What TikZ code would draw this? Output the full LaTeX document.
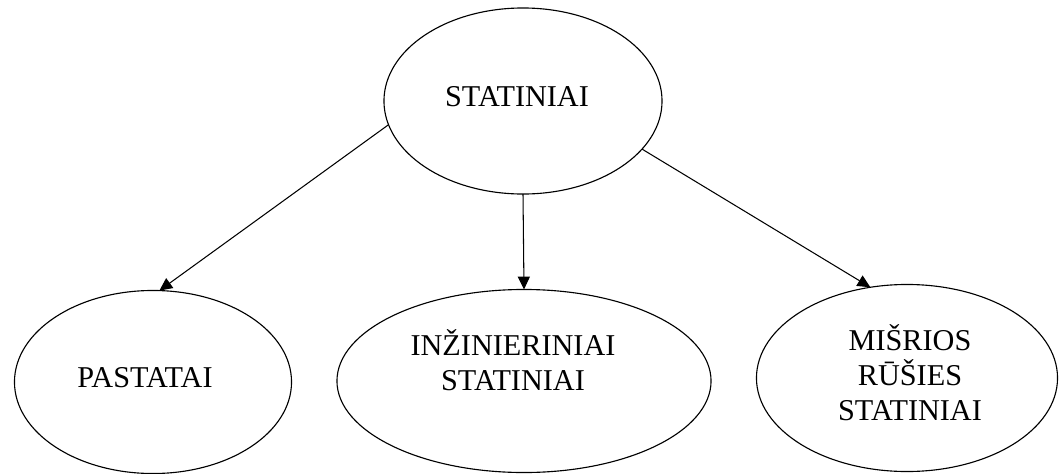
\documentclass[tikz,border=0pt]{standalone}
\usepackage{fontspec}
\setmainfont{Liberation Serif}
\usetikzlibrary{calc, positioning, arrows.meta, shapes.geometric}

\tikzset{
  oval/.style={ellipse, draw, line width=0.8pt, inner sep=0, outer sep=0},
  lbl/.style={font=\fontsize{21.5}{25}\selectfont, align=center, inner sep=0},
  link/.style={-{Triangle[length=0.32cm, width=0.3cm]}, line width=0.75pt},
}

\begin{document}
\begin{tikzpicture}[x=0.025cm, y=-0.025cm]

  \useasboundingbox (0, 0) rectangle (1061, 474);

  \coordinate (top-c)   at (523, 101);
  \coordinate (left-c)  at (153, 382);
  \coordinate (mid-c)   at (524, 381);
  \coordinate (right-c) at (907, 378);

  % ellipses
  \node[oval, minimum width=6.95cm,  minimum height=4.65cm]  (statiniai)     at (top-c)   {};
  \node[oval, minimum width=6.925cm, minimum height=4.575cm] (pastatai)      at (left-c)  {};
  \node[oval, minimum width=9.35cm,  minimum height=4.575cm] (inzinieriniai) at (mid-c)   {};
  \node[oval, minimum width=7.525cm, minimum height=4.675cm] (misrios)       at (right-c) {};

  % texts
  \node[lbl] (statiniai-txt)     at ($(top-c)   + (-6, -4)$)   {STATINIAI};
  \node[lbl] (pastatai-txt)      at ($(left-c)  + (-8, -4)$)   {PASTATAI};
  \node[lbl] (inzinieriniai-txt) at ($(mid-c)   + (-11, -21)$) {INŽINIERINIAI\\STATINIAI};
  \node[lbl] (misrios-txt)       at ($(right-c) + (3, -5)$)    {MIŠRIOS\\RŪŠIES\\STATINIAI};

  % arrows
  \draw[link] (statiniai.190) to (pastatai.86);
  \draw[link] (statiniai.south) to (inzinieriniai.north);
  \draw[link] (statiniai.338) to (misrios.112);

\end{tikzpicture}
\end{document}
